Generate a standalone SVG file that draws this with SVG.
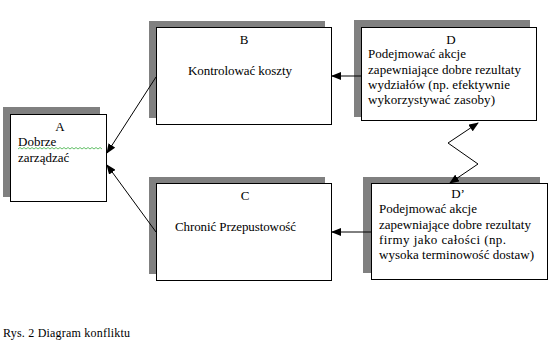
<svg xmlns="http://www.w3.org/2000/svg" width="550" height="348" viewBox="0 0 550 348" font-family="'Liberation Serif', 'DejaVu Serif', serif" font-size="13">
<style>
.sh{fill:#808080;stroke:none}
.bx{fill:#fff;stroke:#000;stroke-width:1}
text{font-family:'Liberation Serif','DejaVu Serif',serif;font-size:13px;fill:#000}
.c{text-anchor:middle}
.ln{stroke:#000;stroke-width:1;fill:none}
</style>
<defs>
<marker id="ah" markerWidth="10" markerHeight="8" refX="9" refY="4" orient="auto" markerUnits="userSpaceOnUse">
<path d="M0,0 L10,4 L0,8 Z" fill="#000"/>
</marker>
<marker id="ahs" markerWidth="10" markerHeight="8" refX="1" refY="4" orient="auto" markerUnits="userSpaceOnUse">
<path d="M10,0 L0,4 L10,8 Z" fill="#000"/>
</marker>
</defs>
<rect width="550" height="348" fill="#fff"/>
<g id="A">
<rect class="sh" x="3" y="107" width="97" height="90"/>
<rect class="bx" x="10.5" y="114.5" width="96" height="87"/>
<text class="c" x="60" y="131">A</text>
<text x="18" y="146">Dobrze</text>
<text x="18" y="162">zarządzać</text>
<path d="M18,149 l2,-1.5 l2,1.5 l2,-1.5 l2,1.5 l2,-1.5 l2,1.5 l2,-1.5 l2,1.5 l2,-1.5 l2,1.5 l2,-1.5 l2,1.5 l2,-1.5 l2,1.5 l2,-1.5 l2,1.5 l2,-1.5 l2,1.5 l2,-1.5 l2,1.5 l2,-1.5 l2,1.5 l2,-1.5 l2,1.5 l2,-1.5 l2,1.5 l2,-1.5 l2,1.5 l2,-1.5 l2,1.5 l2,-1.5 l2,1.5 l2,-1.5 l2,1.5 l2,-1.5 l2,1.5 l2,-1.5 l2,1.5 l2,-1.5 l2,1.5 l2,-1.5 l2,1.5" fill="none" stroke="#3cb043" stroke-width="0.8"/>
</g>
<g id="B">
<rect class="sh" x="149" y="21" width="176" height="97"/>
<rect class="bx" x="156.5" y="27.5" width="175" height="97"/>
<text class="c" x="244" y="44">B</text>
<text x="188" y="75" textLength="104" lengthAdjust="spacing">Kontrolować koszty</text>
</g>
<g id="C">
<rect class="sh" x="149" y="177" width="176" height="97"/>
<rect class="bx" x="156.5" y="183.5" width="175" height="97"/>
<text class="c" x="245" y="200">C</text>
<text x="175" y="231" textLength="121" lengthAdjust="spacing">Chronić Przepustowość</text>
</g>
<g id="D">
<rect class="sh" x="354" y="20" width="176" height="97"/>
<rect class="bx" x="361.5" y="27.5" width="175" height="93"/>
<text class="c" x="451" y="44">D</text>
<text x="368" y="58" textLength="98" lengthAdjust="spacing">Podejmować akcje</text>
<text x="368" y="74" textLength="153" lengthAdjust="spacing">zapewniające dobre rezultaty</text>
<text x="368" y="89" textLength="142" lengthAdjust="spacing">wydziałów (np. efektywnie</text>
<text x="368" y="104" textLength="127" lengthAdjust="spacing">wykorzystywać zasoby)</text>
</g>
<g id="D2">
<rect class="sh" x="363" y="177" width="177" height="96"/>
<rect class="bx" x="371.5" y="183.5" width="176" height="96"/>
<text class="c" x="458" y="198">D’</text>
<text x="379" y="213" textLength="98" lengthAdjust="spacing">Podejmować akcje</text>
<text x="379" y="229" textLength="152" lengthAdjust="spacing">zapewniające dobre rezultaty</text>
<text x="379" y="244" textLength="127" lengthAdjust="spacing">firmy jako całości (np.</text>
<text x="379" y="259" textLength="155" lengthAdjust="spacing">wysoka terminowość dostaw)</text>
</g>
<g id="connectors">
<line class="ln" x1="361" y1="76" x2="332" y2="76" marker-end="url(#ah)"/>
<line class="ln" x1="371" y1="232" x2="332" y2="232" marker-end="url(#ah)"/>
<line class="ln" x1="156" y1="77" x2="107" y2="153" marker-end="url(#ah)"/>
<line class="ln" x1="156" y1="232" x2="107" y2="165" marker-end="url(#ah)"/>
<polyline class="ln" points="478,123 448,143 478,164 450,183" marker-start="url(#ahs)" marker-end="url(#ah)"/>
</g>
<text x="3" y="337" style="font-size:12px" textLength="127" lengthAdjust="spacing">Rys. 2 Diagram konfliktu</text>
</svg>
